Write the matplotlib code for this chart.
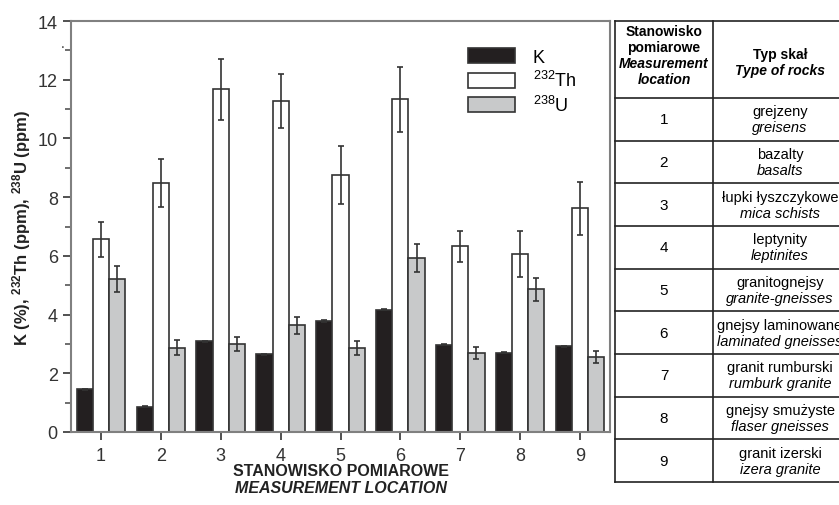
import numpy as np
import matplotlib
matplotlib.use('Agg')
import matplotlib.pyplot as plt
from matplotlib.patches import Patch

plt.rcParams['font.family'] = ['Liberation Sans', 'DejaVu Sans']
plt.rcParams['mathtext.default'] = 'regular'

locations = [1, 2, 3, 4, 5, 6, 7, 8, 9]
k_vals = [1.46, 0.86, 3.09, 2.65, 3.78, 4.17, 2.97, 2.70, 2.92]
k_err = [0.02, 0.02, 0.02, 0.02, 0.02, 0.02, 0.02, 0.02, 0.02]
th_vals = [6.57, 8.48, 11.67, 11.28, 8.75, 11.33, 6.33, 6.07, 7.62]
th_err = [0.60, 0.83, 1.05, 0.92, 1.00, 1.10, 0.53, 0.78, 0.91]
u_vals = [5.21, 2.87, 2.99, 3.64, 2.87, 5.93, 2.68, 4.86, 2.56]
u_err = [0.43, 0.25, 0.24, 0.29, 0.24, 0.47, 0.20, 0.40, 0.20]

rocks_pl = ['grejzeny', 'bazalty', 'łupki łyszczykowe', 'leptynity', 'granitognejsy',
            'gnejsy laminowane', 'granit rumburski', 'gnejsy smużyste', 'granit izerski']
rocks_en = ['greisens', 'basalts', 'mica schists', 'leptinites', 'granite-gneisses',
            'laminated gneisses', 'rumburk granite', 'flaser gneisses', 'izera granite']

W, H = 839, 506
fig = plt.figure(figsize=(W / 100, H / 100), dpi=100)
ax = fig.add_axes([71 / W, 1 - 433 / H, (610 - 71) / W, (433 - 22) / H])

x = np.array(locations, dtype=float)
bw = 0.27
edge = '#333333'
ekw = dict(ecolor='#333333', elinewidth=1.2, capsize=2.5, capthick=1.2)
ax.bar(x - bw, k_vals, bw, yerr=k_err, color='#231f20', edgecolor=edge, linewidth=1.2,
       error_kw=ekw, zorder=2)
ax.bar(x, th_vals, bw, yerr=th_err, color='white', edgecolor=edge, linewidth=1.2,
       error_kw=ekw, zorder=2)
ax.bar(x + bw, u_vals, bw, yerr=u_err, color='#c8c9ca', edgecolor=edge, linewidth=1.2,
       error_kw=ekw, zorder=2)

ax.set_xlim(0.5, 9.5)
ax.set_ylim(0, 14)
ax.set_xticks(locations)
ax.set_yticks(np.arange(0, 15, 2))
ax.set_yticks(np.arange(1, 14, 2), minor=True)
ax.tick_params(axis='both', labelsize=13, colors='#333333', width=1.2, length=6)
ax.tick_params(axis='x', pad=5)
ax.tick_params(axis='y', which='minor', length=4, width=1.2, colors='#555555')
for s in ax.spines.values():
    s.set_color('#808080')
    s.set_linewidth(1.5)
ax.text(-0.012, 13, '.', transform=ax.get_yaxis_transform(), ha='right', va='bottom',
        fontsize=10, color='#333333')

ax.set_ylabel('K (%), $^{232}$Th (ppm), $^{238}$U (ppm)', fontsize=12, fontweight='bold',
              color='#222222')
ax.yaxis.set_label_coords(-(71 - 33) / 539, 0.5)
fig.text(341 / W, 1 - 472 / H, 'STANOWISKO POMIAROWE', ha='center', va='center',
         fontsize=11.5, fontweight='bold', color='#222222')
fig.text(341 / W, 1 - 489 / H, 'MEASUREMENT LOCATION', ha='center', va='center',
         fontsize=11.5, fontweight='bold', style='italic', color='#222222')

handles = [Patch(facecolor='#231f20', edgecolor=edge, linewidth=1.2),
           Patch(facecolor='white', edgecolor=edge, linewidth=1.2),
           Patch(facecolor='#c8c9ca', edgecolor=edge, linewidth=1.2)]
ax.legend(handles, ['K', '$^{232}$Th', '$^{238}$U'], loc='upper left',
          bbox_to_anchor=((468 - 71) / 539, 1 - (49 - 22) / 411), frameon=False,
          borderpad=0, borderaxespad=0, handlelength=2.6, handleheight=0.9,
          handletextpad=1.0, labelspacing=0.25, fontsize=13)

# table on the right
tx0, tx1, tdiv = 615, 847, 713
ty0, thead, ty1 = 22, 99, 483
tab = fig.add_axes([tx0 / W, 1 - ty1 / H, (tx1 - tx0) / W, (ty1 - ty0) / H])
tab.set_xlim(tx0, tx1)
tab.set_ylim(ty1, ty0)
tab.axis('off')
lc = '#222222'
rows = np.linspace(thead, ty1, len(locations) + 1)
for yy in [ty0] + list(rows):
    tab.plot([tx0, tx1], [yy, yy], color=lc, lw=1.2, clip_on=False)
for xx in [tx0, tdiv, tx1]:
    tab.plot([xx, xx], [ty0, ty1], color=lc, lw=1.2, clip_on=False)

c1 = (tx0 + tdiv) / 2
c2 = (tdiv + tx1) / 2
hs = 10
tab.text(c1, 32, 'Stanowisko', ha='center', va='center', fontsize=hs, fontweight='bold')
tab.text(c1, 48, 'pomiarowe', ha='center', va='center', fontsize=hs, fontweight='bold')
tab.text(c1, 64, 'Measurement', ha='center', va='center', fontsize=hs, fontweight='bold',
         style='italic')
tab.text(c1, 80, 'location', ha='center', va='center', fontsize=hs, fontweight='bold',
         style='italic')
tab.text(c2, 55, 'Typ skał', ha='center', va='center', fontsize=hs, fontweight='bold')
tab.text(c2, 71, 'Type of rocks', ha='center', va='center', fontsize=hs, fontweight='bold',
         style='italic')

for i, loc in enumerate(locations):
    mid = (rows[i] + rows[i + 1]) / 2
    tab.text(c1, mid, str(loc), ha='center', va='center', fontsize=11)
    tab.text(c2, mid - 8, rocks_pl[i], ha='center', va='center', fontsize=10.5)
    tab.text(c2, mid + 8, rocks_en[i], ha='center', va='center', fontsize=10.5, style='italic')

fig.savefig('out.png', dpi=100)
